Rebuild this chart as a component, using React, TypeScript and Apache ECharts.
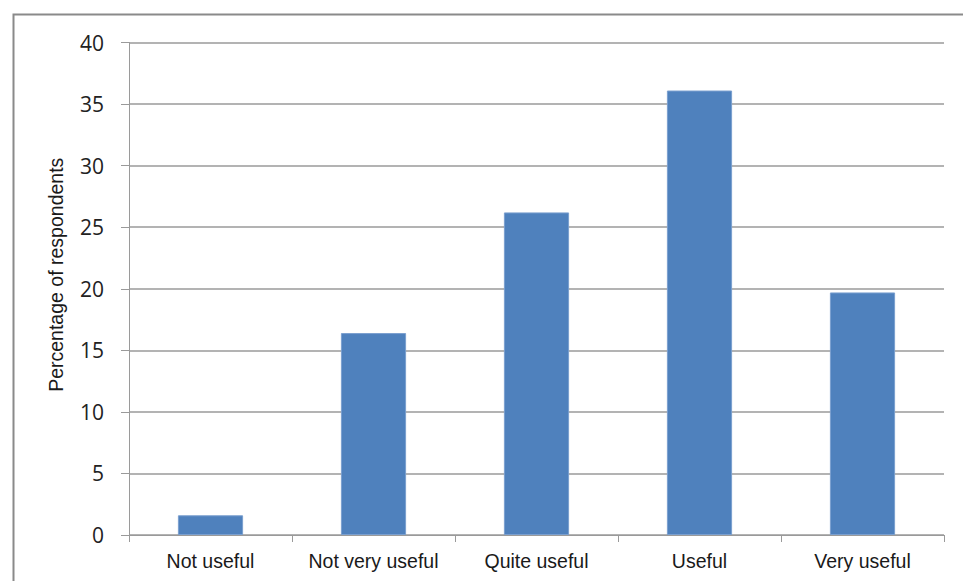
import React, { useEffect, useRef } from "react";
import * as echarts from "echarts";

const categories = ["Not useful", "Not very useful", "Quite useful", "Useful", "Very useful"];
const percentages = [1.6, 16.4, 26.2, 36.1, 19.7];
const yAxisTitle = "Percentage of respondents";
const yMin = 0;
const yMax = 40;
const yStep = 5;

export default function App() {
  const ref = useRef<HTMLDivElement>(null);

  useEffect(() => {
    if (!ref.current) return;
    const chart = echarts.init(ref.current, null, { renderer: "svg" });
    chart.setOption({
      animation: false,
      backgroundColor: "#ffffff",
      graphic: [
        {
          type: "rect",
          left: 11,
          top: 12,
          shape: { width: 980, height: 600 },
          style: { fill: "none", stroke: "#8a8a8a", lineWidth: 2 },
          z: -1,
        },
      ],
      grid: { left: 129, right: 19, top: 42.5, bottom: 46, containLabel: false },
      xAxis: {
        type: "category",
        data: categories,
        boundaryGap: true,
        axisLine: { show: true, lineStyle: { color: "#9a9a9a", width: 1 } },
        axisTick: { show: true, alignWithLabel: false, length: 7, lineStyle: { color: "#9a9a9a" } },
        axisLabel: {
          color: "#1a1a1a",
          fontFamily: "Liberation Sans, Arial, sans-serif",
          fontSize: 19.5,
          margin: 16,
          interval: 0,
        },
      },
      yAxis: {
        type: "value",
        min: yMin,
        max: yMax,
        interval: yStep,
        name: yAxisTitle,
        nameLocation: "middle",
        nameRotate: 90,
        nameGap: 63,
        nameTextStyle: {
          color: "#1a1a1a",
          fontFamily: "Liberation Sans, Arial, sans-serif",
          fontSize: 19.5,
          padding: [0, 0, 0, 28],
        },
        axisLine: { show: true, lineStyle: { color: "#9a9a9a", width: 1 } },
        axisTick: { show: true, length: 8, lineStyle: { color: "#9a9a9a" } },
        axisLabel: {
          color: "#222222",
          fontFamily: "Open Sans, sans-serif",
          fontSize: 21,
          margin: 25,
        },
        splitLine: { show: true, lineStyle: { color: "#9a9a9a", width: 1.5 } },
      },
      series: [
        {
          type: "bar",
          data: percentages,
          barWidth: "40%",
          itemStyle: { color: "#4f81bd", borderColor: "#7a9fcf", borderWidth: 1 },
        },
      ],
    });
    return () => chart.dispose();
  }, []);

  return (
    <div
      ref={ref}
      style={{ position: "fixed", left: 0, top: 0, width: 963, height: 581 }}
    />
  );
}
